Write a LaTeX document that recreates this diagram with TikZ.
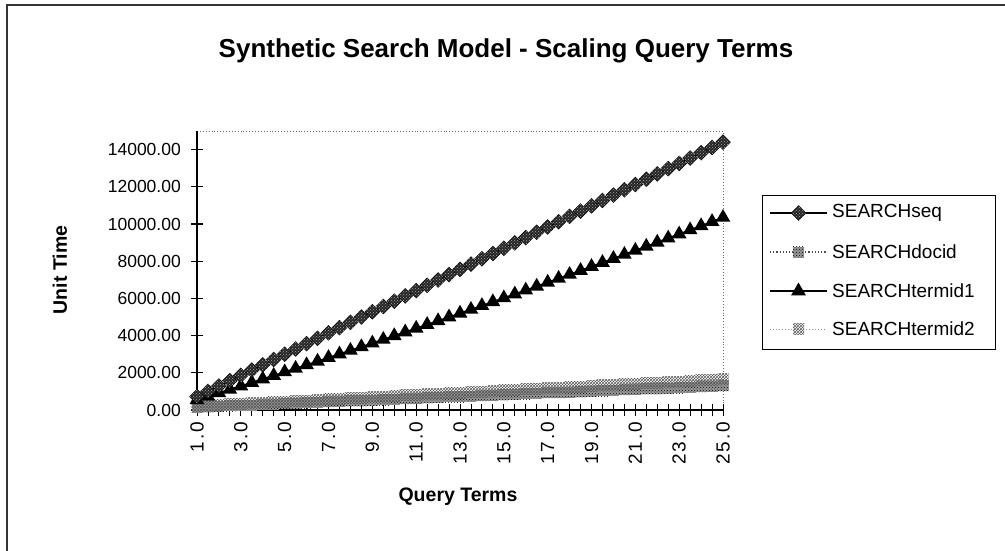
\documentclass[tikz,border=0pt]{standalone}
\usepackage{fontspec}
\setmainfont{Liberation Sans}
\usetikzlibrary{shapes.geometric,patterns}
\tikzset{
  frameline/.style={line width=1.6pt, draw=black!80},
  axisline/.style={line width=1.1pt, draw=black},
  plotborder/.style={dotted, draw=black!60, line width=0.9pt},
  ticklab/.style={font=\fontsize{17.5}{18}\selectfont, inner sep=0pt},
  xticklab/.style={font=\fontsize{19}{20}\selectfont\addfontfeature{LetterSpace=9}, inner sep=0pt},
  legtext/.style={font=\fontsize{19}{20}\selectfont, anchor=west, inner sep=0pt},
  axtitle/.style={font=\bfseries\fontsize{19.5}{20}\selectfont, inner sep=0pt},
  charttitle/.style={font=\bfseries\fontsize{26}{27}\selectfont, inner sep=0pt},
  seqline/.style={draw=black, line width=1.2pt},
  docline/.style={draw=black!70, dotted, line width=1.2pt},
  t1line/.style={draw=black, line width=1.6pt},
  t2line/.style={draw=black!45, dotted, line width=1pt},
  seqmark/.style={diamond, draw=black, fill=black!85, line width=0.5pt, minimum width=15pt, minimum height=15pt, inner sep=0pt,
    postaction={pattern=crosshatch dots, pattern color=black!35}},
  docmark/.style={rectangle, fill=black!40, minimum size=11pt, inner sep=0pt,
    postaction={pattern=crosshatch dots, pattern color=black}},
  t1mark/.style={regular polygon, regular polygon sides=3, fill=black, minimum size=17pt, inner sep=0pt},
  t2mark/.style={rectangle, minimum size=11pt, inner sep=0pt,
    postaction={pattern=crosshatch, pattern color=black!65}},
  legbox/.style={draw=black, line width=1pt}
}
\begin{document}
\begin{tikzpicture}[x=1pt,y=-1pt]
\useasboundingbox (0,0) rectangle (1005,551);
\fill[white] (0,0) rectangle (1005,551);
% outer frame (only left and top edges visible)
\coordinate (fbl) at (7,551);
\coordinate (ftl) at (7,5);
\coordinate (ftr) at (1005,5);
\draw[frameline] (fbl) -- (ftl) -- (ftr);

\node[charttitle] (title) at (506,51) {Synthetic Search Model - Scaling Query Terms};

\node[axtitle, rotate=90] (ytitle) at (60,270) {Unit Time};
\node[axtitle] (xtitle) at (458,497) {Query Terms};

\begin{scope}[shift={(197,410)}, x=21.9167pt, y=0.0186pt]
  \coordinate (O) at (0,0);
  \coordinate (XE) at (24,0);
  \coordinate (YT) at (0,15000);
  \coordinate (TR) at (24,15000);
  \draw[plotborder] (YT) -- (TR) -- (XE);
  % y axis
  \draw[axisline] (O) -- (YT);
  \foreach \v/\t in {0/0.00,2000/2000.00,4000/4000.00,6000/6000.00,8000/8000.00,10000/10000.00,12000/12000.00,14000/14000.00} {
    \coordinate (yt\v) at (0,\v);
    \draw[axisline] ([xshift=-6pt]yt\v) -- ([xshift=6pt]yt\v);
    \node[ticklab, anchor=east] (yl\v) at ([xshift=-16pt]yt\v) {\t};
  }
  % x axis
  \draw[axisline] (O) -- (XE);
  \foreach \i in {0,...,48} {
    \pgfmathsetmacro\u{\i/2}
    \coordinate (xt\i) at (\u,0);
    \draw[axisline, line width=0.9pt] ([yshift=-6pt]xt\i) -- ([yshift=6pt]xt\i);
  }
  \foreach \k in {0,...,12} {
    \pgfmathtruncatemacro\lab{1+2*\k}
    \pgfmathtruncatemacro\pos{2*\k}
    \coordinate (xp\k) at (\pos,0);
    \node[xticklab, rotate=90, anchor=east] (xl\k) at ([yshift=-12pt]xp\k) {\lab.0};
  }
  % data coordinates
  \foreach \i in {0,...,48} {
    \pgfmathsetmacro\xx{1+\i/2}
    \pgfmathsetmacro\u{\i/2}
    \pgfmathsetmacro\vs{570*\xx+150}
    \pgfmathsetmacro\vd{48*\xx+100}
    \pgfmathsetmacro\va{363.2*\xx+1.736*\xx*\xx+185}
    \pgfmathsetmacro\vb{60*\xx+150}
    \coordinate (sq\i) at (\u,\vs);
    \coordinate (dc\i) at (\u,\vd);
    \coordinate (ta\i) at (\u,\va);
    \coordinate (tb\i) at (\u,\vb);
  }
  % lines
  \draw[t2line] (tb0) \foreach \i in {1,...,48} { -- (tb\i) };
  \draw[docline] (dc0) \foreach \i in {1,...,48} { -- (dc\i) };
  \foreach \i in {0,...,48} { \node[docmark] (mdc\i) at (dc\i) {}; }
  \foreach \i in {0,...,48} { \node[t2mark] (mtb\i) at (tb\i) {}; }
  \draw[t1line] (ta0) \foreach \i in {1,...,48} { -- (ta\i) };
  \foreach \i in {0,...,48} { \node[t1mark] (mta\i) at (ta\i) {}; }
  \draw[seqline] (sq0) \foreach \i in {1,...,48} { -- (sq\i) };
  \foreach \i in {0,...,48} { \node[seqmark] (msq\i) at (sq\i) {}; }
\end{scope}

% legend
\coordinate (lgA) at (762,195);
\coordinate (lgB) at (995,349);
\draw[legbox] (lgA) rectangle (lgB);
\foreach \n/\yy/\ls/\ms/\tx in {1/213/seqline/seqmark/SEARCHseq, 2/252/docline/docmark/SEARCHdocid, 3/291/t1line/t1mark/SEARCHtermid1, 4/329/t2line/t2mark/SEARCHtermid2} {
  \coordinate (la\n) at (770,\yy);
  \coordinate (lb\n) at (827,\yy);
  \draw[\ls] (la\n) -- (lb\n);
  \node[\ms] (lm\n) at (798.5,\yy) {};
  \node[legtext] (lt\n) at (832,\yy) {\tx};
}
\end{tikzpicture}
\end{document}
